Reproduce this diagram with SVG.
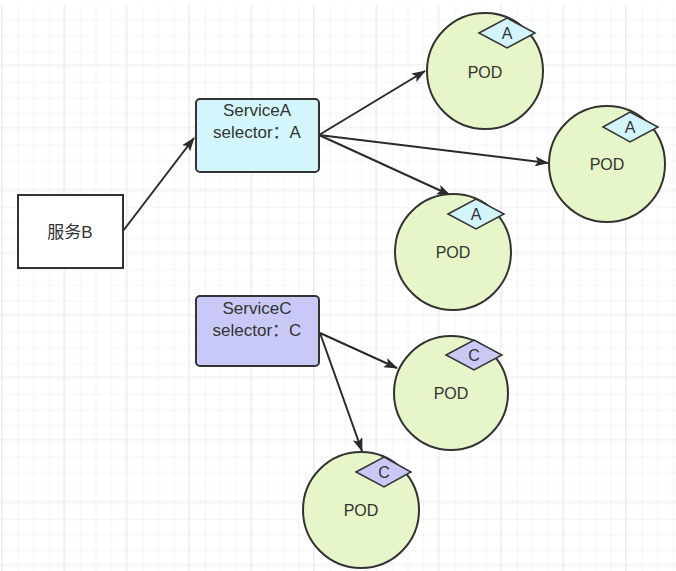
<svg xmlns="http://www.w3.org/2000/svg" width="676" height="571" viewBox="0 0 676 571">
<defs>
<pattern id="gs" x="1" y="2" width="15.6" height="15.6" patternUnits="userSpaceOnUse">
<path d="M15.6 0H0V15.6" fill="none" stroke="#ebebeb" stroke-width="1"/>
</pattern>
<pattern id="gl" x="1" y="2" width="62.4" height="62.4" patternUnits="userSpaceOnUse">
<rect width="62.4" height="62.4" fill="url(#gs)"/>
<path d="M62.4 0H0V62.4" fill="none" stroke="#e0e0e0" stroke-width="1.2"/>
</pattern>
<marker id="ah" markerWidth="14" markerHeight="10" refX="13" refY="5" orient="auto" markerUnits="userSpaceOnUse">
<path d="M0 0L14 5L0 10L3 5Z" fill="#2b2b2b"/>
</marker>
<style>
text{font-family:"Liberation Sans",Arial,"Noto Sans CJK SC",sans-serif;fill:#333;text-anchor:middle;dominant-baseline:central}
.box{stroke:#333;stroke-width:2}
.pod{fill:#e6f6c8;stroke:#333;stroke-width:2}
.tagA{fill:#d2f4fa;stroke:#333;stroke-width:1.5}
.tagC{fill:#c9c9f5;stroke:#333;stroke-width:1.5}
.conn{stroke:#2b2b2b;stroke-width:2;fill:none;marker-end:url(#ah)}
.t{font-size:17px}
.p{font-size:16px}
</style>
</defs>
<rect width="676" height="571" fill="#fff"/>
<rect x="0" y="5" width="676" height="566" fill="url(#gl)"/>

<g id="connectors">
<line class="conn" x1="123" y1="231" x2="194" y2="138"/>
<line class="conn" x1="319" y1="135" x2="425" y2="71"/>
<line class="conn" x1="319" y1="135" x2="548" y2="163"/>
<line class="conn" x1="319" y1="135" x2="450" y2="195"/>
<line class="conn" x1="320" y1="333" x2="397" y2="368"/>
<line class="conn" x1="320" y1="333" x2="362" y2="451"/>
</g>

<g id="serviceB">
<rect class="box" x="18" y="195" width="105" height="73" fill="#fff"/>
<text class="t" x="70" y="232">服务B</text>
</g>

<g id="serviceA">
<rect class="box" x="196" y="99" width="123" height="73" rx="4" fill="#d2f6fb"/>
<text class="t" x="257" y="110">ServiceA</text>
<text class="t" x="257" y="132">selector：A</text>
</g>

<g id="serviceC">
<rect class="box" x="196" y="296" width="123" height="70" rx="4" fill="#c9c9f7"/>
<text class="t" x="257" y="308">ServiceC</text>
<text class="t" x="257" y="330">selector：C</text>
</g>

<g id="pod1">
<circle class="pod" cx="485" cy="71" r="58"/>
<text class="p" x="485" y="72">POD</text>
<path class="tagA" d="M479 33L507 18L535 33L507 48Z"/>
<text class="p" x="507" y="33">A</text>
</g>

<g id="pod2">
<circle class="pod" cx="607" cy="164" r="58"/>
<text class="p" x="607" y="164">POD</text>
<path class="tagA" d="M603 127L630 112L658 127L630 142Z"/>
<text class="p" x="630" y="127">A</text>
</g>

<g id="pod3">
<circle class="pod" cx="453" cy="252" r="58"/>
<text class="p" x="453" y="252">POD</text>
<path class="tagA" d="M448 214L476 199L504 214L476 229Z"/>
<text class="p" x="476" y="214">A</text>
</g>

<g id="pod4">
<circle class="pod" cx="451" cy="393" r="57"/>
<text class="p" x="451" y="393">POD</text>
<path class="tagC" d="M446 355L474 340L502 355L474 370Z"/>
<text class="p" x="474" y="355">C</text>
</g>

<g id="pod5">
<circle class="pod" cx="361" cy="510" r="58"/>
<text class="p" x="361" y="510">POD</text>
<path class="tagC" d="M356 472L384 457L411 472L384 487Z"/>
<text class="p" x="384" y="472">C</text>
</g>
</svg>
